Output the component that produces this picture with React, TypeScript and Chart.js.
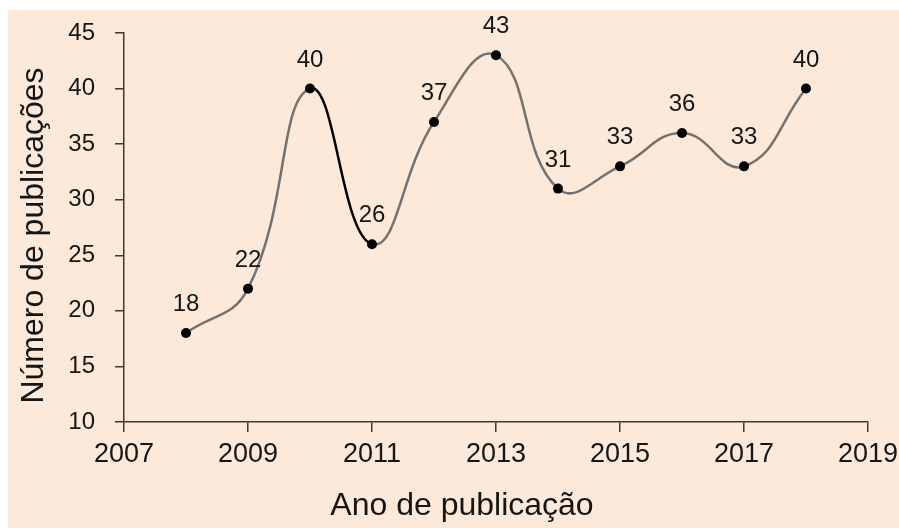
import React, { useEffect, useRef } from "react";
import { Chart, registerables } from "chart.js";

Chart.register(...registerables);

const years = [2008, 2009, 2010, 2011, 2012, 2013, 2014, 2015, 2016, 2017, 2018];
const publications = [18, 22, 40, 26, 37, 43, 31, 33, 36, 33, 40];
const xTickValues = [2007, 2009, 2011, 2013, 2015, 2017, 2019];
const yTickValues = [10, 15, 20, 25, 30, 35, 40, 45];
const xTitle = "Ano de publicação";
const yTitle = "Número de publicações";

const FONT = "'Liberation Sans', Arial, Helvetica, sans-serif";
const TEXT = "#151515";
const AXIS = "#3a3a3a";

const labelsPlugin = {
  id: "customLabels",
  afterDatasetsDraw(chart: any) {
    const ctx = chart.ctx;
    const meta = chart.getDatasetMeta(0);
    ctx.save();
    ctx.fillStyle = TEXT;
    ctx.font = `24px ${FONT}`;
    ctx.textAlign = "center";
    ctx.textBaseline = "alphabetic";
    meta.data.forEach((pt: any, i: number) => {
      ctx.fillText(String(publications[i]), pt.x, pt.y - 22);
    });
    ctx.restore();
  },
  afterDraw(chart: any) {
    const ctx = chart.ctx;
    const area = chart.chartArea;
    ctx.save();
    ctx.fillStyle = TEXT;
    ctx.font = `32px ${FONT}`;
    ctx.textAlign = "center";
    ctx.textBaseline = "alphabetic";
    ctx.fillText(xTitle, (area.left + area.right) / 2 - 34, 505);
    ctx.translate(35, (area.top + area.bottom) / 2 + 8);
    ctx.rotate(-Math.PI / 2);
    ctx.fillText(yTitle, 0, 0);
    ctx.restore();
  },
};

export default function App() {
  const ref = useRef<HTMLCanvasElement | null>(null);
  useEffect(() => {
    if (!ref.current) return;
    const chart = new Chart(ref.current, {
      type: "line",
      data: {
        datasets: [
          {
            data: years.map((y, i) => ({ x: y, y: publications[i] })),
            borderColor: "#727272",
            borderWidth: 2.5,
            tension: 0.45,
            pointRadius: 5,
            pointBackgroundColor: "#000",
            pointBorderWidth: 0,
            segment: {
              borderColor: (c: any) => (c.p0DataIndex === 2 ? "#000" : "#727272"),
            },
          },
        ],
      },
      options: {
        animation: false,
        responsive: true,
        maintainAspectRatio: false,
        layout: { padding: { top: 23, right: 31, left: 0, bottom: 0 } },
        plugins: { legend: { display: false }, tooltip: { enabled: false } },
        scales: {
          x: {
            type: "linear",
            min: 2007,
            max: 2019,
            afterBuildTicks: (s: any) => {
              s.ticks = xTickValues.map((v) => ({ value: v }));
            },
            afterFit: (s: any) => {
              s.height = 106;
              s.paddingLeft = 0;
              s.paddingRight = 0;
            },
            ticks: {
              callback: (v: any) => String(v),
              color: TEXT,
              font: { size: 27, family: FONT },
              padding: 6,
              maxRotation: 0,
              autoSkip: false,
            },
            grid: { drawOnChartArea: false, drawTicks: true, tickLength: 10, color: AXIS, lineWidth: 1.5 },
            border: { display: true, color: AXIS, width: 1.5 },
          },
          y: {
            min: 10,
            max: 45,
            afterBuildTicks: (s: any) => {
              s.ticks = yTickValues.map((v) => ({ value: v }));
            },
            afterFit: (s: any) => {
              s.width = 116;
              s.paddingTop = 0;
              s.paddingBottom = 0;
            },
            ticks: {
              callback: (v: any) => String(v),
              color: TEXT,
              font: { size: 24, family: FONT },
              padding: 20,
              autoSkip: false,
            },
            grid: { drawOnChartArea: false, drawTicks: true, tickLength: 9, color: AXIS, lineWidth: 1.5 },
            border: { display: true, color: AXIS, width: 1.5 },
          },
        },
      },
      plugins: [labelsPlugin],
    });
    return () => chart.destroy();
  }, []);
  return (
    <div
      style={{
        position: "fixed",
        left: 8,
        top: 10,
        width: 891,
        height: 518,
        background: "#fce9da",
      }}
    >
      <canvas ref={ref} />
    </div>
  );
}
